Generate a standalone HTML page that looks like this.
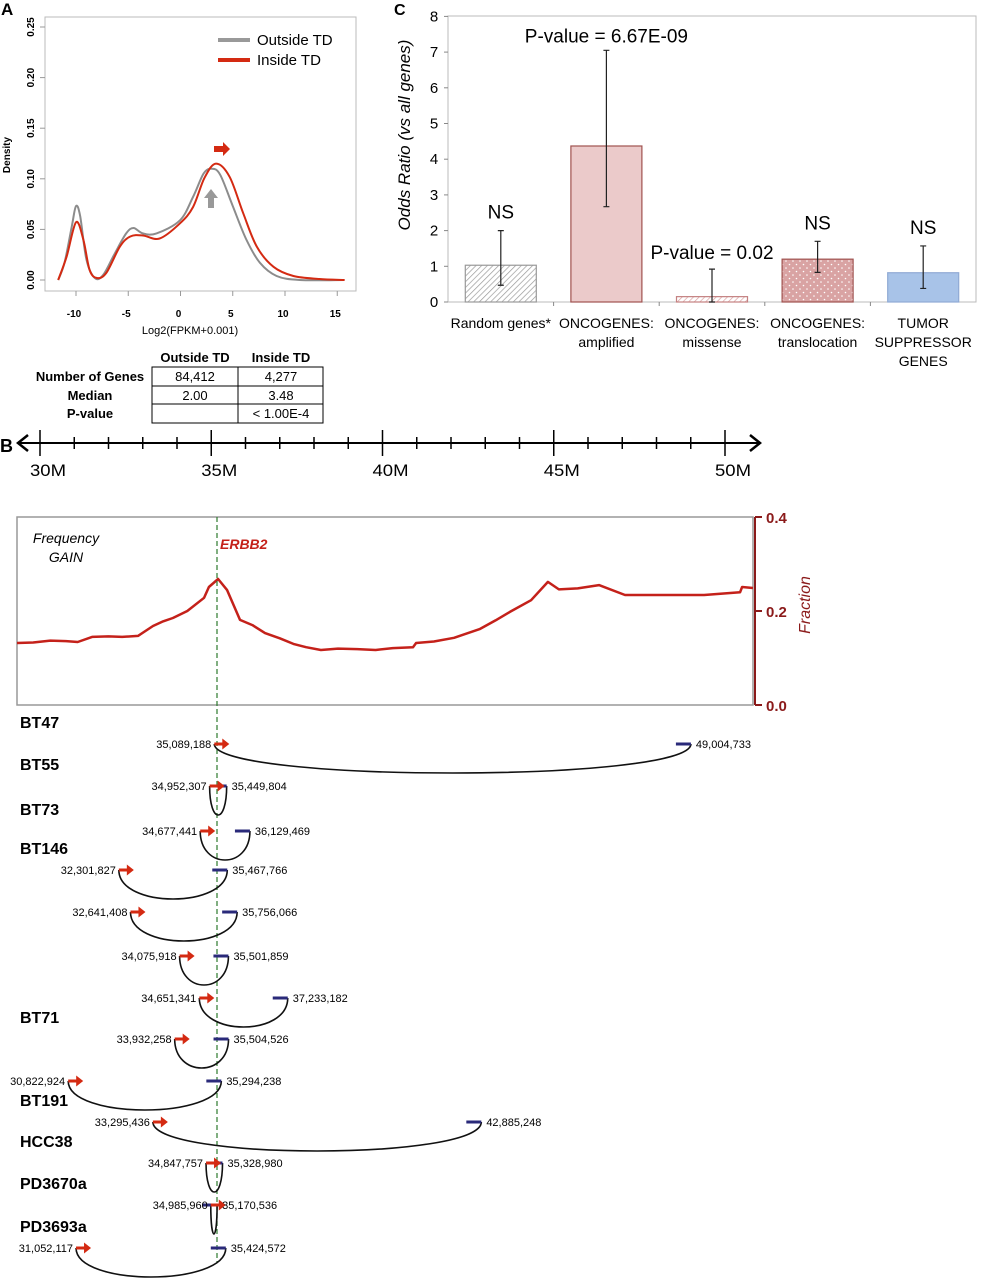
<!DOCTYPE html>
<html><head><meta charset="utf-8">
<style>
html,body{margin:0;padding:0;background:#fff;}
svg{display:block;font-family:"Liberation Sans",sans-serif;}
</style></head>
<body>
<svg id="fig" width="984" height="1280" viewBox="0 0 984 1280" xmlns="http://www.w3.org/2000/svg">
<defs>
<pattern id="hatchGrey" patternUnits="userSpaceOnUse" width="4" height="4" patternTransform="rotate(45)"><rect width="4" height="4" fill="#fff"/><line x1="0" y1="0" x2="0" y2="4" stroke="#999" stroke-width="1.4"/></pattern>
<pattern id="hatchPink" patternUnits="userSpaceOnUse" width="4" height="4" patternTransform="rotate(45)"><rect width="4" height="4" fill="#fff"/><line x1="0" y1="0" x2="0" y2="4" stroke="#d9a0a0" stroke-width="1.4"/></pattern>
<pattern id="dots" patternUnits="userSpaceOnUse" width="7" height="7"><rect width="7" height="7" fill="#d9a3a3"/><circle cx="2" cy="2" r="0.8" fill="#fff"/><circle cx="5.5" cy="5.5" r="0.8" fill="#fff"/></pattern>
</defs>
<g id="gA"></g>
<g id="gC"></g>
<g id="gB"></g>
</svg>
<script>
// ---------- Panel A data ----------
const densGreyX=[-11.7,-11.1,-10.4,-10,-9.6,-9.0,-8.2,-7.4,-6.3,-5.2,-4.5,-3.6,-2.3,-0.05,1.2,2.2,3.0,3.8,5.0,6.3,7.6,9.2,11.4,15.7];
const densGreyY=[0,0.017,0.053,0.073,0.063,0.02,0.002,0.005,0.026,0.046,0.0514,0.046,0.046,0.059,0.082,0.105,0.110,0.104,0.073,0.040,0.017,0.004,0,0];
const densRedX=[-11.7,-10.9,-10,-9.3,-8.7,-8,-7.1,-5.8,-4.8,-3.6,-2,-0.05,1.2,2.3,3.4,4.7,6.0,7.3,8.9,10.8,13.3,15.7];
const densRedY=[0,0.023,0.057,0.040,0.010,0.002,0.007,0.033,0.043,0.044,0.041,0.056,0.072,0.101,0.115,0.102,0.066,0.033,0.013,0.004,0.001,0];
const aXTicks=[-10,-5,0,5,10,15];
const aYTicks=["0.00","0.05","0.10","0.15","0.20","0.25"];
// ---------- Panel C data ----------
const cCats=[["Random genes*"],["ONCOGENES:","amplified"],["ONCOGENES:","missense"],["ONCOGENES:","translocation"],["TUMOR","SUPPRESSOR","GENES"]];
const cVals=[1.03,4.37,0.15,1.2,0.82];
const cErrLo=[0.47,2.67,0,0.83,0.38];
const cErrHi=[2.0,7.05,0.92,1.7,1.57];
const cNotes=["NS","P-value = 6.67E-09","P-value = 0.02","NS","NS"];
const cYTicks=[0,1,2,3,4,5,6,7,8];
// ---------- Panel B data ----------
const bAxisMajor=[30,35,40,45,50];
const freqM=[29.27,29.8,30.3,30.76,31.1,31.52,32.0,32.4,32.86,33.30,33.6,33.88,34.3,34.79,34.93,35.20,35.46,35.84,36.2,36.57,37.0,37.4,37.77,38.20,38.7,39.26,39.8,40.3,40.89,40.98,41.5,42.09,42.85,43.3,43.72,44.34,44.83,45.15,45.7,46.32,47.08,48.0,49.39,50.44,50.50,50.82];
const freqV=[0.132,0.133,0.137,0.136,0.134,0.145,0.146,0.145,0.147,0.168,0.178,0.185,0.200,0.228,0.251,0.268,0.245,0.181,0.170,0.153,0.142,0.130,0.123,0.117,0.120,0.119,0.117,0.121,0.123,0.132,0.135,0.143,0.162,0.180,0.198,0.223,0.262,0.246,0.248,0.255,0.234,0.234,0.234,0.240,0.251,0.249];
const bSamples=["BT47","BT55","BT73","BT146","BT71","BT191","HCC38","PD3670a","PD3693a"];
const bSampleRow=[0,1,2,3,7,9,10,11,12];
const bLeftPos=[35089188,34952307,34677441,32301827,32641408,34075918,34651341,33932258,30822924,33295436,34847757,34985960,31052117];
const bRightPos=[49004733,35449804,36129469,35467766,35756066,35501859,37233182,35504526,35294238,42885248,35328980,35170536,35424572];

const NS="http://www.w3.org/2000/svg";
function el(parent,tag,attrs,text){const e=document.createElementNS(NS,tag);for(const k in attrs)e.setAttribute(k,attrs[k]);if(text!==undefined)e.textContent=text;parent.appendChild(e);return e;}
function fmt(n){return n.toLocaleString('en-US');}
function smooth(pts){let d='M'+pts[0][0].toFixed(1)+','+pts[0][1].toFixed(1);
 for(let i=0;i<pts.length-1;i++){const p0=pts[Math.max(0,i-1)],p1=pts[i],p2=pts[i+1],p3=pts[Math.min(pts.length-1,i+2)];
  const c1=[p1[0]+(p2[0]-p0[0])/6,p1[1]+(p2[1]-p0[1])/6],c2=[p2[0]-(p3[0]-p1[0])/6,p2[1]-(p3[1]-p1[1])/6];
  d+=` C${c1[0].toFixed(1)},${c1[1].toFixed(1)} ${c2[0].toFixed(1)},${c2[1].toFixed(1)} ${p2[0].toFixed(1)},${p2[1].toFixed(1)}`;}
 return d;}

// ================= PANEL A =================
(function(){
const g=document.getElementById('gA');
const ax=v=>180.5+v*10.45, ay=v=>280-v*1012;
let t=el(g,'text',{x:1,y:15,'font-size':17,'font-weight':'bold'},'A');

let r=el(g,'rect',{x:45,y:17,width:311,height:274,fill:'none',stroke:'#bbb','stroke-width':1});

aXTicks.forEach(v=>{const x=ax(v);
 let l=el(g,'line',{x1:x,x2:x,y1:291,y2:296,stroke:'#999'});
 let tt=el(g,'text',{x:x-2,y:317,'font-size':10,'font-weight':'bold','text-anchor':'middle'},String(v));});
aYTicks.forEach(s=>{const y=ay(parseFloat(s));
 let l=el(g,'line',{x1:40,x2:45,y1:y,y2:y,stroke:'#999'});
 let tt=el(g,'text',{x:34,y:y,'font-size':10,'font-weight':'bold','text-anchor':'middle',transform:`rotate(-90 34 ${y})`},s);});
t=el(g,'text',{x:10,y:155,'font-size':10,'font-weight':'bold','text-anchor':'middle',transform:'rotate(-90 10 155)'},'Density');
t=el(g,'text',{x:190,y:334,'font-size':11,'text-anchor':'middle'},'Log2(FPKM+0.001)');
function curve(xs,ys,col,name){let d=smooth(xs.map((x,i)=>[ax(x),ay(ys[i])]));
 let p=el(g,'path',{d:d,fill:'none',stroke:col,'stroke-width':2,'stroke-linejoin':'round'});}
curve(densGreyX,densGreyY,'#8c8c8c','outside-td-curve');
curve(densRedX,densRedY,'#d42a12','inside-td-curve');
let l=el(g,'line',{x1:218,x2:250,y1:40,y2:40,stroke:'#999','stroke-width':4});
t=el(g,'text',{x:257,y:45,'font-size':15},'Outside TD');
l=el(g,'line',{x1:218,x2:250,y1:60,y2:60,stroke:'#d42a12','stroke-width':4});
t=el(g,'text',{x:257,y:65,'font-size':15},'Inside TD');
let p=el(g,'path',{d:'M214,146 L223,146 L223,142 L230,149 L223,156 L223,152 L214,152 Z',fill:'#d42a12'});
p=el(g,'path',{d:'M208,208 L208,198 L204,198 L211,189 L218,198 L214,198 L214,208 Z',fill:'#999'});
const tg=el(g,'g',{});
el(tg,'text',{x:195,y:362,'font-size':13,'font-weight':'bold','text-anchor':'middle'},'Outside TD');
el(tg,'text',{x:281,y:362,'font-size':13,'font-weight':'bold','text-anchor':'middle'},'Inside TD');
el(tg,'rect',{x:152,y:367,width:171,height:56,fill:'none',stroke:'#000','stroke-width':1});
el(tg,'line',{x1:238,x2:238,y1:367,y2:423,stroke:'#000'});
el(tg,'line',{x1:152,x2:323,y1:386,y2:386,stroke:'#000'});
el(tg,'line',{x1:152,x2:323,y1:404,y2:404,stroke:'#000'});
[['Number of Genes','84,412','4,277',381],['Median','2.00','3.48',400],['P-value','','< 1.00E-4',418]].forEach(rw=>{
 el(tg,'text',{x:90,y:rw[3],'font-size':13,'font-weight':'bold','text-anchor':'middle'},rw[0]);
 el(tg,'text',{x:195,y:rw[3],'font-size':13,'text-anchor':'middle'},rw[1]);
 el(tg,'text',{x:281,y:rw[3],'font-size':13,'text-anchor':'middle'},rw[2]);});
})();

// ================= PANEL C =================
(function(){
const g=document.getElementById('gC');
const x0=448,cw=105.6, cy=v=>302-v*35.7;
let t=el(g,'text',{x:394,y:15,'font-size':16,'font-weight':'bold'},'C');
let r=el(g,'rect',{x:448,y:16,width:528,height:286,fill:'none',stroke:'#bbb'});
cYTicks.forEach(v=>{const y=cy(v);
 let l=el(g,'line',{x1:444,x2:448,y1:y,y2:y,stroke:'#888'});
 let tt=el(g,'text',{x:434,y:y+5,'font-size':15,'text-anchor':'middle'},String(v));});
t=el(g,'text',{x:410,y:135,'font-size':17,'font-style':'italic','text-anchor':'middle',transform:'rotate(-90 410 135)'},'Odds Ratio (vs all genes)');
const fills=['url(#hatchGrey)','#ebcaca','url(#hatchPink)','url(#dots)','#a8c3e8'];
const strokes=['#999','#a0524f','#c48080','#a0524f','#90aad4'];
const noteDy=[12,8,10,12,12];
cVals.forEach((v,i)=>{
 const cx=x0+cw*(i+0.5), bw=71;
 let b=el(g,'rect',{x:cx-bw/2,y:cy(v),width:bw,height:cy(0)-cy(v),fill:fills[i],stroke:strokes[i],'stroke-width':1.2});
 
 let e=el(g,'path',{d:`M${cx},${cy(cErrLo[i])}V${cy(cErrHi[i])}M${cx-3},${cy(cErrLo[i])}h6M${cx-3},${cy(cErrHi[i])}h6`,stroke:'#222','stroke-width':1.2,fill:'none'});
 
 let nt=el(g,'text',{x:cx,y:cy(cErrHi[i])-noteDy[i],'font-size':19,'text-anchor':'middle'},cNotes[i]);
 
 cCats[i].forEach((ln,j)=>{let ct=el(g,'text',{x:cx,y:328+j*19,'font-size':14,'text-anchor':'middle'},ln);
  });
 if(i>0){let tk=el(g,'line',{x1:x0+cw*i,x2:x0+cw*i,y1:302,y2:306,stroke:'#888'});}
});
})();

// ================= PANEL B =================
(function(){
const g=document.getElementById('gB');
const bx=m=>40+(m-30)*34.25;
const fy=v=>705-v*470;
let t=el(g,'text',{x:0,y:452,'font-size':18,'font-weight':'bold'},'B');
let a=el(g,'g',{});
el(a,'line',{x1:20,x2:758,y1:443,y2:443,stroke:'#000','stroke-width':2});
el(a,'path',{d:'M28,435 L18,443 L28,451',fill:'none',stroke:'#000','stroke-width':2.5});
el(a,'path',{d:'M750,435 L760,443 L750,451',fill:'none',stroke:'#000','stroke-width':2.5});
for(let m=30;m<=50;m++){const x=bx(m);const maj=bAxisMajor.includes(m);
 el(a,'line',{x1:x,x2:x,y1:maj?430:437,y2:maj?456:449,stroke:'#000','stroke-width':1.5});}
bAxisMajor.forEach(m=>{let tt=el(g,'text',{x:bx(m)+8,y:476,'font-size':17,'text-anchor':'middle',textLength:36,lengthAdjust:'spacingAndGlyphs'},m+'M');});
let r=el(g,'rect',{x:17,y:517,width:736,height:188,fill:'none',stroke:'#999','stroke-width':1.5});
t=el(g,'text',{x:66,y:543,'font-size':14,'font-style':'italic','text-anchor':'middle'},'Frequency');
t=el(g,'text',{x:66,y:562,'font-size':14,'font-style':'italic','text-anchor':'middle'},'GAIN');
let ra=el(g,'g',{});
el(ra,'line',{x1:755,x2:755,y1:517,y2:705,stroke:'#8b1a1a','stroke-width':2});
[0.4,0.2,0.0].forEach(v=>{el(ra,'line',{x1:755,x2:762,y1:fy(v),y2:fy(v),stroke:'#8b1a1a','stroke-width':2});
 el(ra,'text',{x:766,y:fy(v)+6,'font-size':15,'font-weight':'bold',fill:'#8b1a1a'},v.toFixed(1));});
t=el(g,'text',{x:810,y:605,'font-size':16,'font-style':'italic',fill:'#8b1a1a','text-anchor':'middle',transform:'rotate(-90 810 605)'},'Fraction');
let d=freqM.map((m,i)=>(i?'L':'M')+Math.max(17,Math.min(753,bx(m))).toFixed(1)+','+fy(freqV[i]).toFixed(1)).join(' ');
let fp=el(g,'path',{d:d,fill:'none',stroke:'#c4211a','stroke-width':2.5,'stroke-linejoin':'round'});
let dl=el(g,'line',{x1:217,x2:217,y1:517,y2:1262,stroke:'#2d7a2d','stroke-width':1.2,'stroke-dasharray':'5,3'});
t=el(g,'text',{x:220,y:549,'font-size':14,'font-style':'italic','font-weight':'bold',fill:'#c4211a'},'ERBB2');
const rowY=[744,786,831,870,912,956,998,1039,1081,1122,1163,1205,1248];
bSamples.forEach((s,i)=>{let st=el(g,'text',{x:20,y:rowY[bSampleRow[i]]-16,'font-size':16,'font-weight':'bold'},s);});
bLeftPos.forEach((lp,i)=>{
 const y=rowY[i], xl=bx(lp/1e6), xr=bx(bRightPos[i]/1e6), depth=29;
 const arc=el(g,'path',{d:`M${xl},${y} C${xl},${y+depth*4/3} ${xr},${y+depth*4/3} ${xr},${y}`,fill:'none',stroke:'#111','stroke-width':1.6});
 
 const bm=el(g,'line',{x1:xr-15,x2:xr,y1:y,y2:y,stroke:'#2a2a7a','stroke-width':3});
 
 const ar=el(g,'path',{d:`M${xl},${y-1.5} h8 v-4 l7,5.5 l-7,5.5 v-4 h-8 z`,fill:'#d42a12'});
 
 const lt=el(g,'text',{x:xl-3,y:y+4,'font-size':11,'text-anchor':'end'},fmt(lp));
 
 const rt=el(g,'text',{x:xr+5,y:y+4,'font-size':11},fmt(bRightPos[i]));
 
});
})();
</script>
</body></html>
